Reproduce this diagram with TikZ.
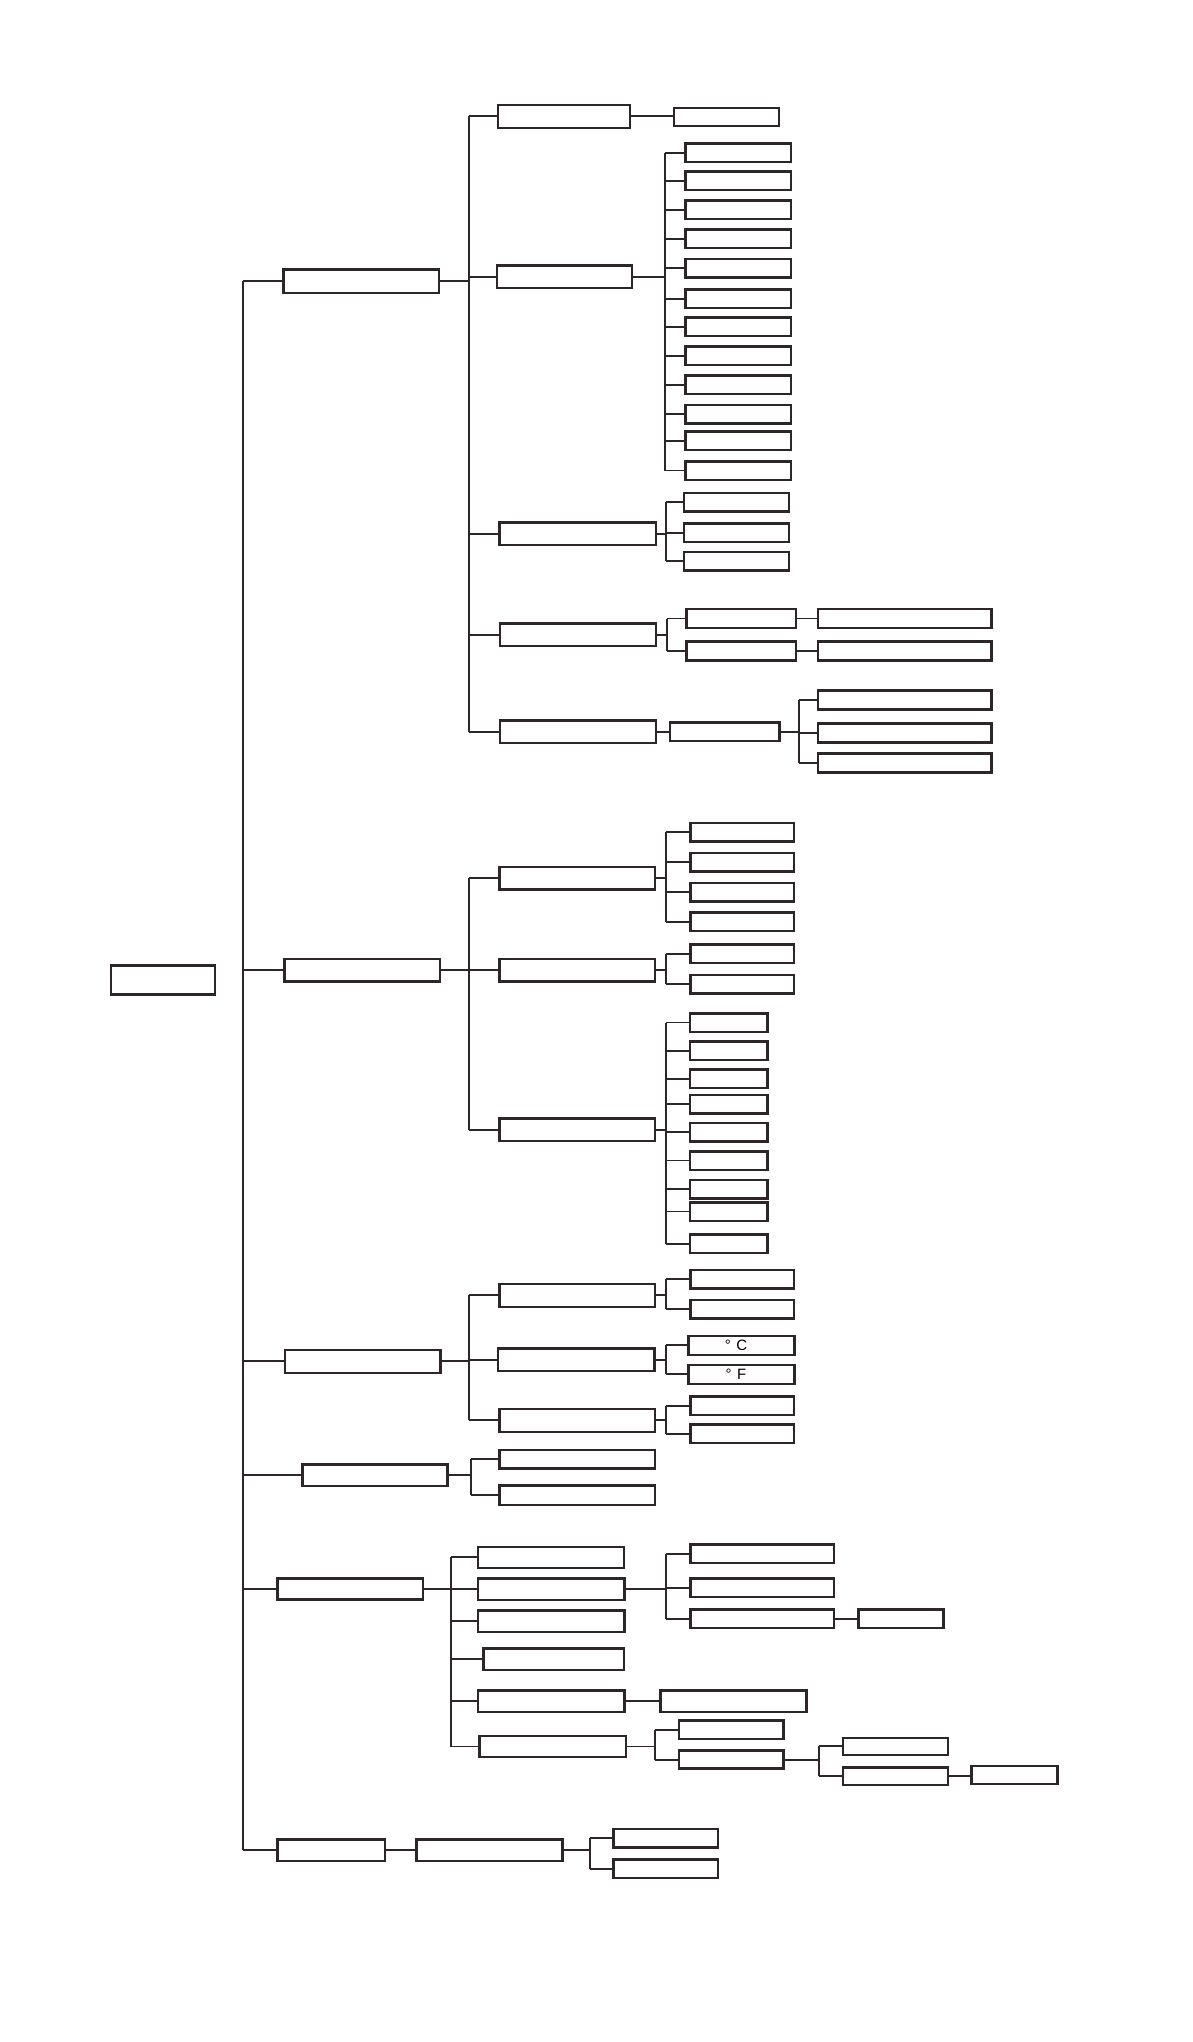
\documentclass[tikz,border=0pt]{standalone}
\usepackage{fontspec}
\newfontfamily\arialf{Liberation Sans}
\definecolor{lc}{RGB}{46,38,38}
\tikzset{
  bx/.style={draw=lc, line width=2.5pt, inner sep=0pt, outer sep=0pt, fill=white},
  ln/.style={draw=lc, line width=1.9pt},
}
% box from outer corners
\newcommand\bx[6][]{\node[bx, minimum width={(#4)-(#2)-2.5}, minimum height={(#6)-(#3)-2.5}, font=\arialf\fontsize{15}{15}\selectfont] (#5) at ({((#2)+(#4))/2},{((#3)+(#6))/2}) {#1};}
% child box: name, x1, x2, center y, height
\newcommand\cb[5]{\node[bx, minimum width={(#3)-(#2)-2.5}, minimum height={(#5)-2.5}] (#1) at ({((#2)+(#3))/2},#4) {};}
% bus: parent, bus x, first child, last child, children list
\newcommand\bus[5]{%
  \coordinate (bus-#1) at (#2,0);
  \draw[ln] (#1.east) -- (bus-#1 |- #1.east);
  \draw[ln] (bus-#1 |- #3.west) -- (bus-#1 |- #4.west);
  \foreach \c in {#5} {\draw[ln] (bus-#1 |- \c.west) -- (\c.west);}
}
\newcommand\link[2]{\draw[ln] (#1.east) -- (#1.east -| #2.west);}
\begin{document}
\begin{tikzpicture}[x=1pt,y=-1pt]
\useasboundingbox (0,0) rectangle (1192,2042);
\fill[white] (0,0) rectangle (1192,2042);

% root and first level
\bx{109.5}{964.3}{216}{root}{995.5}
\bx{282}{268.4}{440}{A}{294.4}
\bx{283}{957.6}{441}{B}{982.6}
\bx{283.6}{1348.7}{441.8}{C}{1374.1}
\bx{301}{1463.3}{448.7}{D}{1487.3}
\bx{276}{1577.2}{424.3}{E}{1600.6}
\bx{276}{1838}{386.3}{F}{1862.2}

\coordinate (trunk) at (243.3,0);
\draw[ln] (trunk |- A.west) -- (trunk |- F.west);
\foreach \n in {A,B,C,D,E,F} {\draw[ln] (trunk |- \n.west) -- (\n.west);}

% ---------- branch A ----------
\bx{496.7}{103.7}{631}{A1}{129}
\bx{495.7}{264.3}{633.3}{A2}{289.3}
\bx{498.3}{521.3}{657}{A3}{546.3}
\bx{498.6}{622.3}{657.4}{A4}{647.3}
\bx{498.6}{719.3}{657.4}{A5}{744.3}
\bus{A}{469}{A1}{A5}{A1,A2,A3,A4,A5}

\bx{672.7}{106.7}{780.3}{A1a}{127}
\link{A1}{A1a}

\foreach \y [count=\i] in {152.7,180.7,209.7,238.8,268.3,298.8,326.8,355.8,384.8,414.3,440.7,470.5}
  {\cb{A2c\i}{684.3}{792.3}{\y}{21}}
\bus{A2}{665}{A2c1}{A2c12}{A2c1,A2c2,A2c3,A2c4,A2c5,A2c6,A2c7,A2c8,A2c9,A2c10,A2c11,A2c12}

\foreach \y [count=\i] in {502,532.8,561.3}
  {\cb{A3c\i}{682.7}{790}{\y}{21}}
\bus{A3}{665.7}{A3c1}{A3c3}{A3c1,A3c2,A3c3}

\cb{A4c1}{685}{797.4}{618.5}{21.5}
\cb{A4c2}{685}{797.4}{650.8}{21.5}
\bus{A4}{667}{A4c1}{A4c2}{A4c1,A4c2}
\cb{A4d1}{816.6}{992.6}{618.5}{21.5}
\cb{A4d2}{816.6}{992.6}{650.8}{21.5}
\link{A4c1}{A4d1}
\link{A4c2}{A4d2}

\bx{668.5}{721.3}{780.6}{A5m}{742.3}
\link{A5}{A5m}
\foreach \y [count=\i] in {699.8,732.8,762.8}
  {\cb{A5c\i}{816.6}{992.6}{\y}{21.5}}
\bus{A5m}{798.6}{A5c1}{A5c3}{A5c1,A5c2,A5c3}

% ---------- branch B ----------
\bx{498}{865.6}{656}{B1}{890.6}
\bx{498}{957.6}{656}{B2}{982.6}
\bx{498}{1117.4}{656}{B3}{1142.4}
\bus{B}{469.2}{B1}{B3}{B1,B2,B3}

\foreach \y [count=\i] in {832,862,892,921.7}
  {\cb{B1c\i}{689}{795.4}{\y}{21}}
\bus{B1}{666}{B1c1}{B1c4}{B1c1,B1c2,B1c3,B1c4}

\cb{B2c1}{689}{795.4}{953.8}{21}
\cb{B2c2}{689}{795.4}{984}{21}
\bus{B2}{666}{B2c1}{B2c2}{B2c1,B2c2}

\foreach \y [count=\i] in {1022.5,1050.8,1078.8,1104,1132,1160.5,1189,1211.5,1243.8}
  {\cb{B3c\i}{688.7}{768.7}{\y}{21}}
\bus{B3}{666}{B3c1}{B3c9}{B3c1,B3c2,B3c3,B3c4,B3c5,B3c6,B3c7,B3c8,B3c9}

% ---------- branch C ----------
\bx{498}{1282.6}{656}{C1}{1308}
\bx{496.5}{1347.3}{655.5}{C2}{1372.3}
\bx{498}{1407.6}{656}{C3}{1433}
\bus{C}{469.2}{C1}{C3}{C1,C2,C3}

\cb{C1c1}{689}{795.4}{1279}{21}
\cb{C1c2}{689}{795.4}{1309.2}{21}
\bus{C1}{666}{C1c1}{C1c2}{C1c1,C1c2}

\bx[°\hspace{5.5pt}C\hspace*{11pt}]{687.3}{1334.7}{795.7}{C2c1}{1356}
\bx[°\hspace{5.5pt}F\hspace*{11pt}]{687.3}{1363.8}{795.7}{C2c2}{1385}
\bus{C2}{666}{C2c1}{C2c2}{C2c1,C2c2}

\cb{C3c1}{689}{795.4}{1405.6}{21}
\cb{C3c2}{689}{795.4}{1433.9}{21}
\bus{C3}{666}{C3c1}{C3c2}{C3c1,C3c2}

% ---------- branch D ----------
\bx{498}{1448.6}{656}{D1}{1469.6}
\bx{498}{1484.4}{656}{D2}{1506.2}
\bus{D}{470.7}{D1}{D2}{D1,D2}

% ---------- branch E ----------
\bx{476.8}{1545.5}{625}{E1}{1569.3}
\bx{476.8}{1577.2}{625.8}{E2}{1601.4}
\bx{476.8}{1609.3}{625.8}{E3}{1633.1}
\bx{482}{1647.4}{625}{E4}{1671.2}
\bx{476.8}{1689.3}{625.8}{E5}{1713.1}
\bx{478.3}{1734.6}{627.4}{E6}{1758.4}
\bus{E}{451}{E1}{E6}{E1,E2,E3,E4,E5,E6}

\bx{689}{1543.2}{835}{E2c1}{1564.4}
\bx{689}{1577.2}{835}{E2c2}{1598.4}
\bx{689}{1608.2}{835}{E2c3}{1629.3}
\bus{E2}{666}{E2c1}{E2c3}{E2c1,E2c2,E2c3}
\bx{857}{1608.2}{944.5}{E2d}{1629.3}
\link{E2c3}{E2d}

\bx{659.3}{1689.3}{807.6}{E5a}{1713.1}
\link{E5}{E5a}

\bx{677.6}{1719.2}{784.8}{E6c1}{1740.3}
\bx{677.6}{1749.4}{784.8}{E6c2}{1769.7}
\bus{E6}{654.7}{E6c1}{E6c2}{E6c1,E6c2}

\bx{841.8}{1736.5}{949}{E6d1}{1756.2}
\bx{841.8}{1766.3}{949}{E6d2}{1786.3}
\bus{E6c2}{819}{E6d1}{E6d2}{E6d1,E6d2}
\bx{970.3}{1764.5}{1058.6}{E6e}{1785.2}
\link{E6d2}{E6e}

% ---------- branch F ----------
\bx{415.2}{1838}{563.5}{F2}{1862.2}
\link{F}{F2}
\bx{612.2}{1827.9}{719.4}{F2c1}{1848.6}
\bx{612.2}{1858}{719.4}{F2c2}{1879.2}
\bus{F2}{590}{F2c1}{F2c2}{F2c1,F2c2}
\end{tikzpicture}
\end{document}
